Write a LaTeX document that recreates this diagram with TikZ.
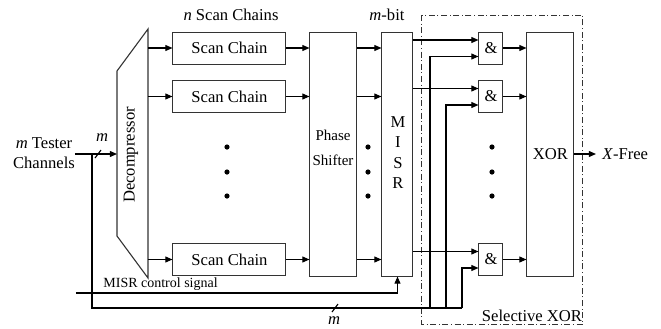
\documentclass[tikz,border=0pt]{standalone}
\usepackage{fontspec}
\setmainfont{Liberation Serif}
\usetikzlibrary{arrows.meta, positioning, calc}

\begin{document}
\begin{tikzpicture}[
  x=0.5pt, y=-0.5pt,
  >={Triangle[length=3.6pt, width=3pt]},
  box/.style={
    draw=black!80, line width=0.5pt, inner sep=0pt,
    font=\fontsize{8.3}{10}\selectfont, align=center
  },
  chainbox/.style={box, minimum width=56.5pt, minimum height=16pt},
  tallbox/.style={box, minimum width=#1, minimum height=122pt},
  andbox/.style={box, minimum width=12pt, minimum height=16pt},
  lbl/.style={font=\fontsize{8.3}{10}\selectfont, inner sep=0pt, align=center},
  arr/.style={->, line width=0.55pt, black},
  wire/.style={line width=0.55pt, black},
  dot/.style={circle, fill=black, inner sep=0pt, minimum size=2.6pt},
]

\useasboundingbox (0,0) rectangle (661,328);

% =============================================
% LEFT: Tester channels and decompressor
% =============================================
\draw[wire, draw=black!80] (117,71) -- (148,29) -- (148,278) -- (117,236) -- cycle;
\node[lbl, rotate=90] (decomp) at (131,155) {Decompressor};

\node[lbl] (tester) at (44,153) {\textit{m} Tester\\Channels};
\coordinate (tin) at (75,154);
\coordinate (din) at (117,154);
\draw[arr] (tin) -- (din);
\coordinate (sl1) at (98,154);
\draw[wire] ($(sl1)+(-3,4)$) -- ($(sl1)+(3,-4)$);
\node[lbl, font=\fontsize{8.3}{10}\selectfont\itshape] at (102,138) {m};

% =============================================
% Scan chains
% =============================================
\node[lbl] (nsc) at (231,15) {\textit{n} Scan Chains};
\node[chainbox] (sc1) at (229.5,48) {Scan Chain};
\node[chainbox] (sc2) at (229.5,96.5) {Scan Chain};
\node[chainbox] (sc3) at (229.5,259.5) {Scan Chain};

\foreach \i in {1,2,3}
  \draw[arr] (148,0 |- sc\i.west) -- (sc\i.west);

\foreach \y in {147,172,196}
  \node[dot] at (227,\y) {};

% =============================================
% Phase shifter and MISR
% =============================================
\node[tallbox=23.5pt, font=\fontsize{7.5}{12.5}\selectfont] (ps) at (333.5,154) {};
\node[lbl, font=\fontsize{7.5}{12.5}\selectfont] at (333,148) {Phase\\Shifter};

\node[tallbox=15.5pt] (misr) at (397.5,154) {};
\node[lbl, font=\fontsize{8.3}{10.25}\selectfont] at (398,152.5) {M\\I\\S\\R};
\node[lbl] (mbit) at (387,15) {\textit{m}-bit};

\foreach \i in {1,2,3}
  \draw[arr] (sc\i.east) -- (ps.west |- sc\i.east);

\draw[arr] (ps.east |- sc1.east) -- (misr.west |- sc1.east);
\draw[arr] (ps.east |- sc2.east) -- (misr.west |- sc2.east);
\draw[arr] (ps.east |- sc3.east) -- (misr.west |- sc3.east);

\foreach \y in {147,172,196}
  \node[dot] at (368,\y) {};

% MISR control signal
\coordinate (ctl) at (76,293);
\draw[arr] (ctl) -| (misr.south);
\node[lbl, font=\fontsize{7}{8}\selectfont, anchor=south west] at (103,291) {MISR control signal};

% =============================================
% RIGHT: Selective XOR
% =============================================
\draw[line width=0.5pt, black!80,
      dash pattern=on 3pt off 1.3pt on 0.5pt off 1.3pt]
  (422,15) rectangle (583,324);
\node[lbl, anchor=base] (selx) at (532,321) {Selective XOR};

\node[andbox] (and1) at (491,48) {\&};
\node[andbox] (and2) at (491,96.5) {\&};
\node[andbox] (and3) at (491,259.5) {\&};

\foreach \y in {147,172,196}
  \node[dot] at (492,\y) {};

% MISR outputs -> AND gates (upper inputs)
\foreach \i in {1,2,3}
  \draw[arr] (misr.east |- {$(and\i.west)+(0,-8)$}) -- ($(and\i.west)+(0,-8)$);

% control bus -> AND gates (lower inputs)
\coordinate (bus) at (92,308);
\draw[wire] (tin -| bus) -- (bus) -- (462,308);
\draw[arr] (430,308) |- ($(and1.west)+(0,8.5)$);
\draw[arr] (446,308) |- ($(and2.west)+(0,8.5)$);
\draw[arr] (462,308) |- ($(and3.west)+(0,8.5)$);
\coordinate (sl2) at (335,308);
\draw[wire] ($(sl2)+(-3,4)$) -- ($(sl2)+(3,-4)$);
\node[lbl, font=\fontsize{8.3}{10}\selectfont\itshape] at (334,321) {m};

% XOR
\node[tallbox=23.5pt] (xor) at (550.5,154) {XOR};

\foreach \i in {1,2,3}
  \draw[arr] (and\i.east) -- (xor.west |- and\i.east);

\coordinate (out) at (596,154);
\draw[arr] (xor.east) -- (out);
\node[lbl, anchor=west, right=3pt of out] {\textit{X}-Free};

\end{tikzpicture}
\end{document}
